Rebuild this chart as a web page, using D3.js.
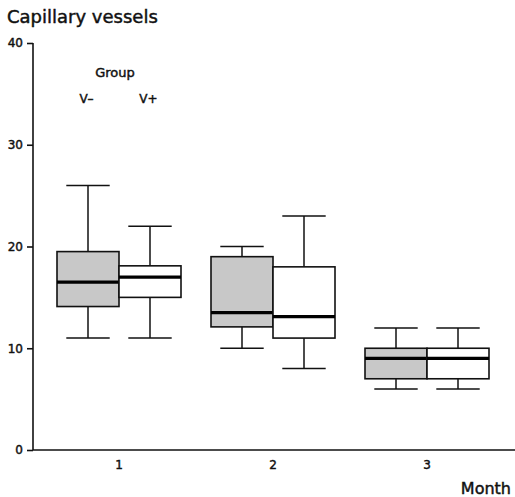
<!DOCTYPE html>
<html>
<head>
<meta charset="utf-8">
<script src="https://cdn.jsdelivr.net/npm/d3@7"></script>
<style>
  html, body { margin: 0; padding: 0; background: #fff; }
  svg { display: block; }
  text { font-family: "DejaVu Sans", "Liberation Sans", sans-serif; fill: #111; stroke: #111; stroke-width: 0.45px; }
</style>
</head>
<body>
<svg id="chart" width="515" height="497"></svg>
<script>
const months = ["1", "2", "3"];
const groups = ["V\u2013", "V+"];
const yTicks = [0, 10, 20, 30, 40];
// per group, per month: [lower whisker, Q1, median, Q3, upper whisker]
const vMinusLow    = [11, 10, 6];
const vMinusQ1     = [14.1, 12.1, 7];
const vMinusMedian = [16.5, 13.5, 9];
const vMinusQ3     = [19.5, 19, 10];
const vMinusHigh   = [26, 20, 12];
const vPlusLow     = [11, 8, 6];
const vPlusQ1      = [15, 11, 7];
const vPlusMedian  = [17, 13.1, 9];
const vPlusQ3      = [18.1, 18, 10];
const vPlusHigh    = [22, 23, 12];
const fills = ["#c8c8c8", "#ffffff"];

const rows = [];
months.forEach((m, i) => {
  rows.push({month: m, group: groups[0], low: vMinusLow[i], q1: vMinusQ1[i], med: vMinusMedian[i], q3: vMinusQ3[i], high: vMinusHigh[i]});
  rows.push({month: m, group: groups[1], low: vPlusLow[i], q1: vPlusQ1[i], med: vPlusMedian[i], q3: vPlusQ3[i], high: vPlusHigh[i]});
});

const svg = d3.select("#chart");
const y = d3.scaleLinear().domain([0, 40]).range([450, 43]);
const x0 = d3.scaleBand().domain(months).range([42, 504]);
const x1 = d3.scaleBand().domain(groups).range([15, 139]);
const color = d3.scaleOrdinal().domain(groups).range(fills);

// Title
svg.append("text").attr("x", 7).attr("y", 23).attr("font-size", 18).text("Capillary vessels");

// Y axis
const yAxis = svg.append("g").attr("transform", "translate(33,0)")
  .call(d3.axisLeft(y).tickValues(yTicks).tickSize(6).tickSizeOuter(0).tickPadding(4));
yAxis.selectAll("path, line").attr("stroke", "#111").attr("stroke-width", 1.6);
yAxis.selectAll("text").attr("font-size", 12).attr("font-family", "DejaVu Sans").attr("fill", "#111");
yAxis.select(".domain").attr("d", `M0,${y(40)}V${y(0)}`);

// X axis
const xAxis = svg.append("g").attr("transform", "translate(0,450)")
  .call(d3.axisBottom(x0).tickSize(0).tickPadding(10));
xAxis.select(".domain").attr("d", "M33,0H515").attr("stroke", "#111").attr("stroke-width", 1.6);
xAxis.selectAll("text").attr("font-size", 12).attr("font-family", "DejaVu Sans").attr("fill", "#111");

svg.append("text").attr("x", 511).attr("y", 494).attr("text-anchor", "end")
  .attr("font-size", 16).text("Month");

// Boxes
const bw = x1.bandwidth();
const capW = bw * 0.7;
const g = svg.append("g");
rows.forEach(d => {
  const cx = x0(d.month) + x1(d.group) + bw / 2;
  const left = x0(d.month) + x1(d.group);
  const grp = g.append("g");
  grp.append("line").attr("x1", cx).attr("x2", cx).attr("y1", y(d.high)).attr("y2", y(d.q3))
    .attr("stroke", "#111").attr("stroke-width", 1.5);
  grp.append("line").attr("x1", cx).attr("x2", cx).attr("y1", y(d.q1)).attr("y2", y(d.low))
    .attr("stroke", "#111").attr("stroke-width", 1.5);
  grp.append("line").attr("x1", cx - capW / 2).attr("x2", cx + capW / 2).attr("y1", y(d.high)).attr("y2", y(d.high))
    .attr("stroke", "#111").attr("stroke-width", 1.5);
  grp.append("line").attr("x1", cx - capW / 2).attr("x2", cx + capW / 2).attr("y1", y(d.low)).attr("y2", y(d.low))
    .attr("stroke", "#111").attr("stroke-width", 1.5);
  grp.append("rect").attr("x", left).attr("width", bw)
    .attr("y", y(d.q3)).attr("height", y(d.q1) - y(d.q3))
    .attr("fill", color(d.group)).attr("stroke", "#111").attr("stroke-width", 1.6);
  grp.append("line").attr("x1", left).attr("x2", left + bw).attr("y1", y(d.med)).attr("y2", y(d.med))
    .attr("stroke", "#000").attr("stroke-width", 3.2);
});

// Legend
const m1 = months[0];
svg.append("text").attr("x", 115).attr("y", 77).attr("text-anchor", "middle")
  .attr("font-size", 13).text("Group");
groups.forEach(gname => {
  svg.append("text").attr("x", x0(m1) + x1(gname) + bw / 2 - 1.5).attr("y", 103)
    .attr("text-anchor", "middle").attr("font-size", 12).text(gname);
});
</script>
</body>
</html>
